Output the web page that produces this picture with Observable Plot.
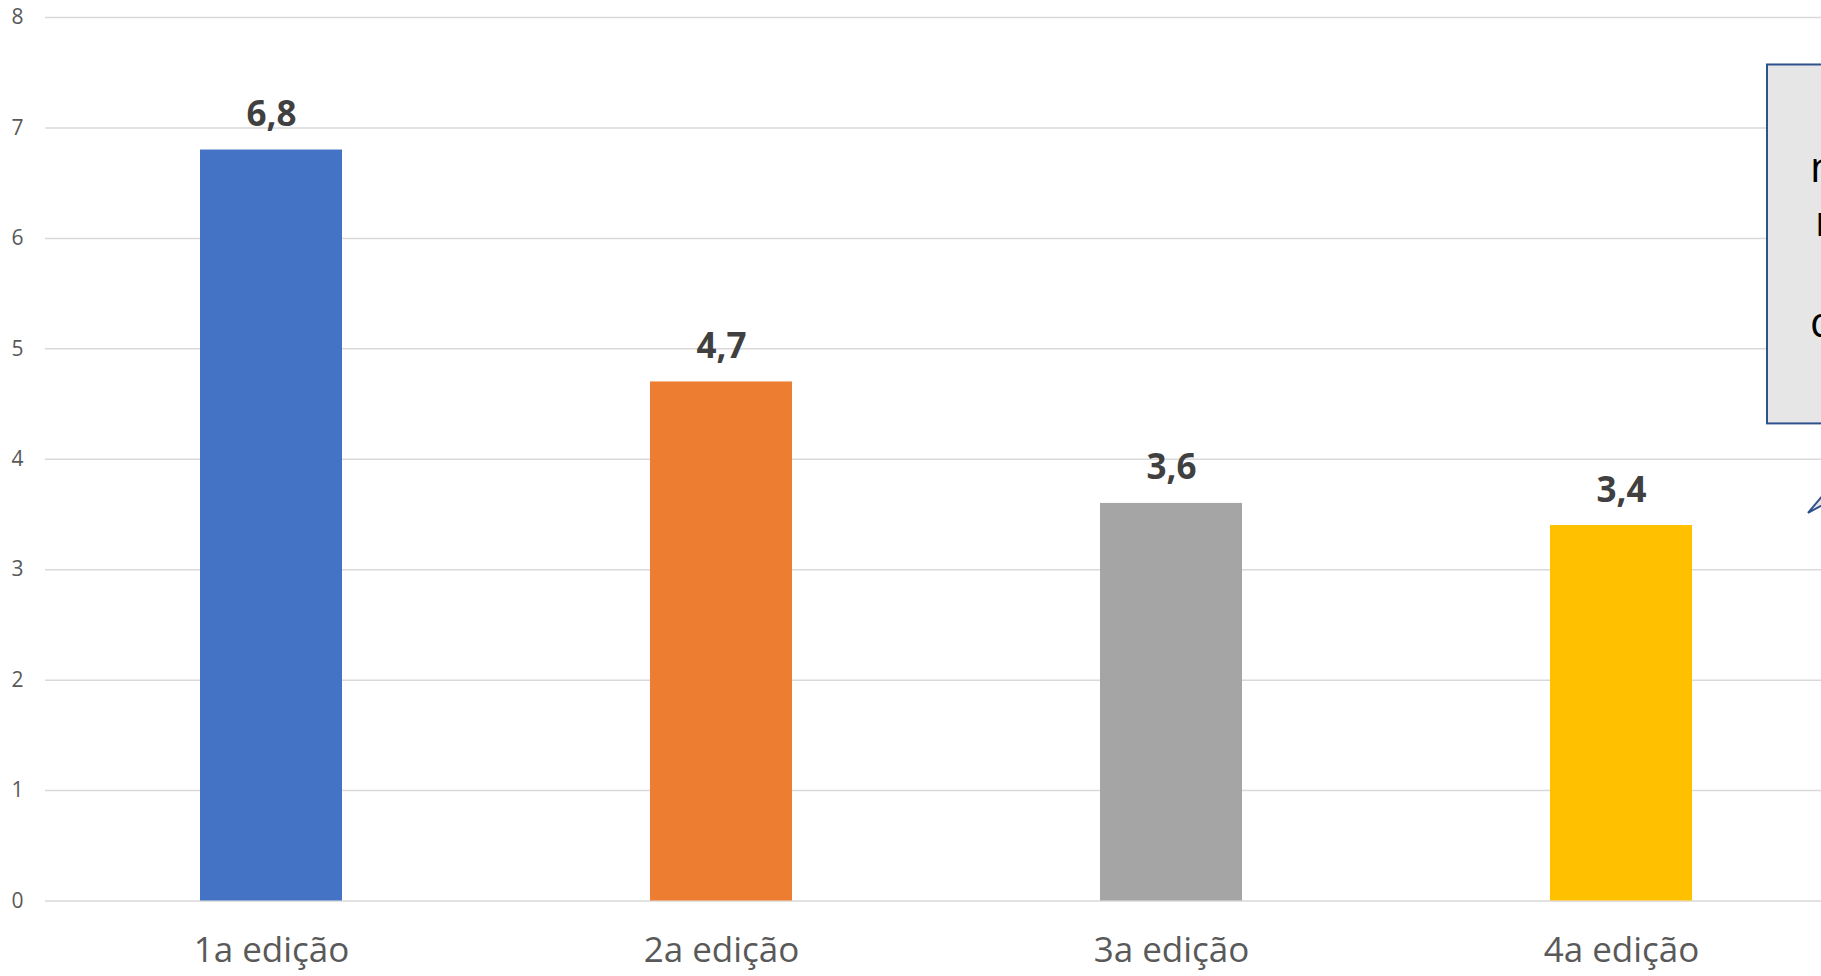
<!DOCTYPE html>
<html>
<head>
<meta charset="utf-8">
<script src="https://cdn.jsdelivr.net/npm/d3@7"></script>
<script src="https://cdn.jsdelivr.net/npm/@observablehq/plot@0.6"></script>
<style>
  html, body { margin: 0; padding: 0; background: #fff; overflow: hidden; }
  #chart { width: 1821px; height: 976px; overflow: hidden; }
</style>
</head>
<body>
<div id="chart"></div>
<script>
const categories = ["1a edição", "2a edição", "3a edição", "4a edição"];
const values = [6.8, 4.7, 3.6, 3.4];
const labels = ["6,8", "4,7", "3,6", "3,4"];
const colors = ["#4472C4", "#ED7D31", "#A5A5A5", "#FFC000"];
const yTicks = [0, 1, 2, 3, 4, 5, 6, 7, 8];
const calloutLines = ["nota", "nas", "", "da edição"];

const data = categories.map((c, i) => ({cat: c, value: values[i], label: labels[i], color: colors[i]}));

const font = "'Open Sans', 'Noto Sans', sans-serif";

const plot = Plot.plot({
  width: 1821,
  height: 976,
  marginLeft: 45,
  marginRight: 0,
  marginTop: 17,
  marginBottom: 75.5,
  style: {fontFamily: font, background: "#fff", overflow: "hidden"},
  x: {type: "band", domain: categories, range: [46, 1846], paddingInner: 0.684, paddingOuter: 0.342},
  y: {domain: [0, 8]},
  marks: [
    Plot.ruleY(yTicks, {stroke: "#d9d9d9", strokeWidth: 1.5}),
    Plot.barY(data, {x: "cat", y: "value", fill: "color"}),
    Plot.text(data, {x: "cat", y: "value", text: "label", lineAnchor: "bottom", dy: -24,
      fontSize: 35, fontWeight: "bold", fill: "#404040"}),
    Plot.axisY(yTicks, {tickSize: 0, tickPadding: 22, fontSize: 21, color: "#595959", label: null, tickFormat: d => String(d)}),
    Plot.axisX({tickSize: 0, tickPadding: 36, fontSize: 35, color: "#595959", label: null})
  ]
});

document.getElementById("chart").appendChild(plot);

// Callout annotation (partly cropped at the right edge, as in the reference)
const svg = d3.select(plot);
const ys = plot.scale("y");
const yPix = v => ys.apply(v);
const boxTop = yPix(7.57), boxBottom = yPix(4.32);
const g = svg.append("g").attr("text-anchor", "start");
g.append("rect")
  .attr("x", 1767).attr("y", boxTop)
  .attr("width", 200).attr("height", boxBottom - boxTop)
  .attr("fill", "#e7e6e6").attr("stroke", "#2f528f").attr("stroke-width", 2);
const lineY = [182, 236, 290, 337];
const lineX = [1810, 1815, 1810, 1810];
calloutLines.forEach((t, i) => {
  if (!t) return;
  g.append("text").attr("x", lineX[i]).attr("y", lineY[i]).attr("text-anchor", "start")
    .attr("font-family", font).attr("font-size", 42).attr("fill", "#000").text(t);
});
const tipY = yPix(3.51);
g.append("polygon")
  .attr("points", `1808,${tipY} 1830,${tipY - 26} 1830,${tipY - 12}`)
  .attr("fill", "#e7e6e6").attr("stroke", "#2f528f").attr("stroke-width", 2).attr("stroke-linejoin", "miter");
</script>
</body>
</html>
